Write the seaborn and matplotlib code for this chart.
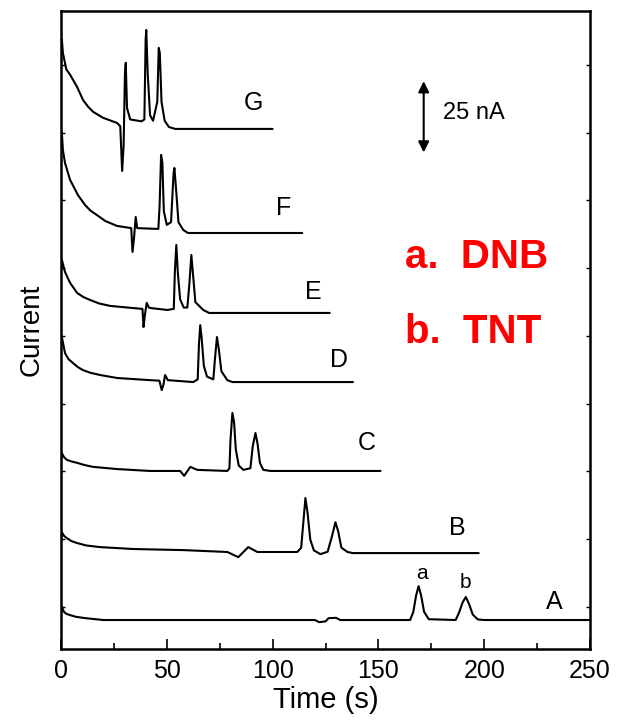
import numpy as np
import pandas as pd
import seaborn as sns
import matplotlib
matplotlib.use('Agg')
import matplotlib.pyplot as plt
from matplotlib.ticker import MultipleLocator

# Electropherograms of DNB / TNT, traces A (bottom) to G (top)
trace_names = ['A', 'B', 'C', 'D', 'E', 'F', 'G']
# baseline offset of each trace (nA on the stacked axis)
offsets = [10.7, 35.4, 65.7, 98.5, 124.0, 153.5, 191.9]

# time (s) and current relative to the trace baseline (nA)
t_A = [0, 0.4, 1.4, 2.5, 4.3, 7, 11.4, 20, 120, 122, 125, 126.5, 130, 132, 165, 166.5, 167.8, 169,
       170.2, 171.6, 173.8, 186.5, 188, 189.8, 191.3, 192.8, 194.6, 197, 200, 250]
i_A = [5.2, 5.0, 3.0, 2.3, 1.8, 1.2, 0.7, 0, 0, -0.8, -0.5, 0.7, 0.8, 0, 0, 3, 9, 12.5,
       9, 3, 0.3, 0, 2.5, 6.5, 8.5, 6, 2, 0.2, 0, 0]

t_B = [0, 0.4, 1.5, 2.8, 5, 7.6, 12, 18.5, 34.1, 57.8, 78.6, 83.8, 88.5, 92.8, 111.7, 113.5, 114.6, 115.5,
       116.5, 117.8, 119.5, 122.6, 126, 128, 129.7, 131, 132.5, 135.4, 138, 197.4]
i_B = [5, 7.7, 6.3, 5.5, 4.4, 3.7, 2.8, 2.2, 1.5, 1.1, 0.4, -1.5, 2.2, 0.4, 0.4, 2, 12, 20.3,
       15, 5, 1, -0.4, 0.5, 6, 11.4, 8, 2, 0.4, 0, 0]

t_C = [0, 0.4, 1.5, 2.8, 5, 7.6, 11, 15.2, 26.5, 42.1, 56.3, 58.2, 61.1, 64.4, 78.6, 79.6, 80.1, 81,
       81.8, 82.6, 84, 86.2, 89.5, 90.6, 91.9, 92.9, 94, 95.6, 99, 151]
i_C = [4, 6.6, 5, 4.1, 3.5, 3, 2.2, 1.5, 0.7, 0, 0, -1.8, 1.5, 0.4, 0, 1, 11.4, 21.4,
       18, 8, 2, 0.4, 1, 9, 14, 10, 3, 0.4, 0, 0]

t_D = [0, 0.4, 1.9, 3.5, 5.7, 8, 10.4, 14, 18.5, 26.5, 42.1, 46.5, 47.6, 48.4, 49.2, 50.5, 62.5, 64.6,
       65.2, 65.8, 66.5, 67.5, 69, 72, 72.7, 73.7, 74.6, 75.8, 78.6, 81, 138]
i_D = [13, 16.6, 10.7, 8.5, 7, 5.5, 4.4, 3.4, 2.6, 1.5, 0.7, 0.5, -3, -1, 2.6, 0.7, 0, 1,
       14, 21, 16, 6, 2, 1, 8, 16.6, 12, 4, 0.7, 0, 0]

t_E = [0, 0.4, 1.9, 4.3, 7.6, 10.5, 13.7, 18, 23.2, 34.1, 38.5, 39.0, 39.6, 40.5, 41.5, 42.5, 50.2,
       53.3, 53.8, 54.5, 55.2, 56.3, 58, 59.7, 60.6, 61.6, 62.3, 63.5, 67.2, 70, 127]
i_E = [15, 19.6, 15.1, 11.1, 7.4, 5.9, 4.8, 3.5, 2.6, 1.8, 1.5, -5.2, -1, 3.7, 2, 1.8, 1.1,
       1.5, 15, 25.1, 15, 5, 2, 2, 10, 21.4, 15, 4, 1.1, 0, 0]

t_F = [0, 0.4, 0.9, 1.9, 4.3, 8, 11.4, 14, 17, 21, 26.5, 33.2, 33.8, 34.5, 35.3, 36, 46,
       46.6, 47.3, 47.9, 48.6, 50, 52, 53.2, 53.6, 54.5, 55.5, 57.8, 60, 114]
i_F = [30, 37, 30.6, 25.8, 19.6, 14, 10.3, 8.2, 6.6, 4.4, 2.6, 1.8, -7, -2, 5.9, 1.8, 1.5,
       10, 28.8, 26, 8, 3, 4, 22, 24, 15, 4, 1.1, 0, 0]

t_G = [0, 0.4, 0.9, 2.5, 4.3, 7.6, 10.4, 12.8, 15.2, 19.9, 26.5, 28.0, 28.9, 29.6, 30.2, 30.6,
       31.2, 32.7, 38, 39.4, 40.0, 40.3, 41.0, 42.1, 43.5, 45.5, 46.2, 46.7, 47.5, 49, 51, 54, 100]
i_G = [30, 33, 28, 22, 20, 15.5, 10.7, 8.2, 6.3, 4.1, 2.2, 1.0, -15.5, -6, 20, 24.4,
       7.7, 3.5, 2.8, 3.5, 33, 36.5, 20, 5, 3, 10, 29.9, 28, 10, 3, 0.7, 0, 0]

times = [t_A, t_B, t_C, t_D, t_E, t_F, t_G]
currents = [i_A, i_B, i_C, i_D, i_E, i_F, i_G]

# label positions for each trace (time, current)
label_t = [233, 187.5, 144.4, 131.2, 119.3, 105.1, 90.9]
label_y = [17.3, 44.6, 76.0, 106.6, 131.7, 162.7, 201.5]

rows = []
for name, off, t, cur in zip(trace_names, offsets, times, currents):
    for tt, cc in zip(t, cur):
        rows.append({'trace': name, 'time': tt, 'current': off + cc})
df = pd.DataFrame(rows)

sns.set_style('ticks')
plt.rcParams['font.family'] = ['Liberation Sans', 'DejaVu Sans']
plt.rcParams.update({'text.color': 'black', 'axes.labelcolor': 'black',
                     'xtick.color': 'black', 'ytick.color': 'black',
                     'axes.edgecolor': 'black'})

fig = plt.figure(figsize=(6.18, 7.25), dpi=100)
ax = fig.add_axes([0.0987, 0.1048, 0.856, 0.88])

sns.lineplot(data=df, x='time', y='current', units='trace', estimator=None, sort=False,
             color='black', linewidth=1.5, legend=False, ax=ax)

for name, tx, ty in zip(trace_names, label_t, label_y):
    ax.text(tx, ty, name, fontsize=18, ha='center', va='center')

# peak labels on trace A
ax.text(170.5, 28.0, 'a', fontsize=15, ha='center', va='center')
ax.text(191.3, 24.7, 'b', fontsize=15, ha='center', va='center')

# scale bar
ax.annotate('', xy=(171.4, 209.5), xytext=(171.4, 183.2),
            arrowprops=dict(arrowstyle='<|-|>', color='black', lw=1.5,
                            mutation_scale=16, shrinkA=0, shrinkB=0))
ax.text(180.4, 197.8, '25 nA', fontsize=17, ha='left', va='center')

ax.text(162.5, 144.6, 'a.  DNB', fontsize=29, fontweight='bold', color='red', ha='left', va='center')
ax.text(162.5, 117.0, 'b.  TNT', fontsize=29, fontweight='bold', color='red', ha='left', va='center')

ax.set_xlim(0, 250)
ax.set_ylim(0, 235.4)
ax.xaxis.set_major_locator(MultipleLocator(50))
ax.xaxis.set_minor_locator(MultipleLocator(25))
ax.set_yticks(np.arange(15.5, 220, 25))
ax.set_yticklabels([])
ax.tick_params(axis='x', which='major', direction='in', length=7, width=1.2, labelsize=18, pad=7)
ax.tick_params(axis='x', which='minor', direction='in', length=4, width=1.2)
ax.tick_params(axis='y', direction='in', length=3, width=1, left=True, right=True, labelleft=False)
for s in ax.spines.values():
    s.set_linewidth(1.8)
    s.set_visible(True)

ax.set_xlabel('Time (s)', fontsize=21, labelpad=2)
ax.set_ylabel('Current', fontsize=20, labelpad=12)

fig.savefig('out.png', dpi=100)
